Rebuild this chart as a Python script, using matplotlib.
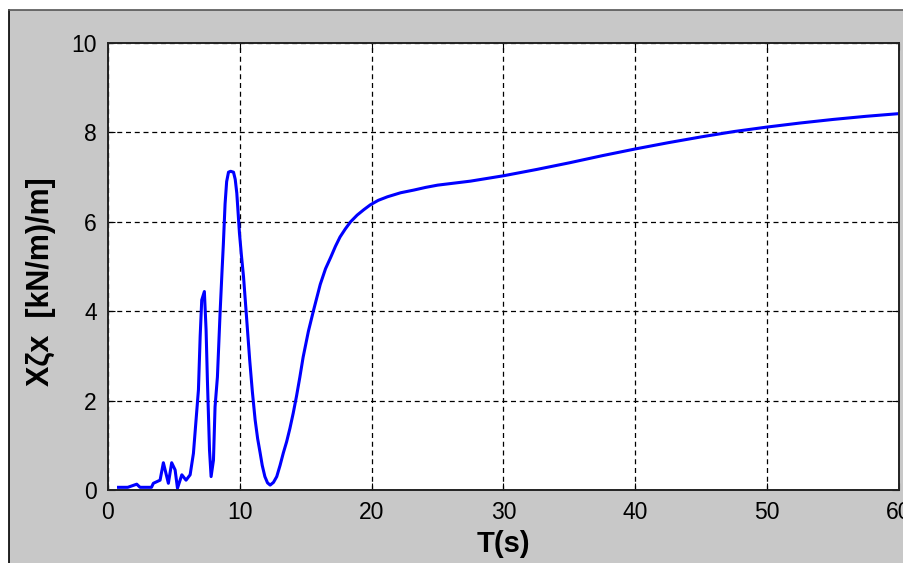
import matplotlib
matplotlib.use("Agg")
import matplotlib.pyplot as plt
from matplotlib.patches import Rectangle

# Data
t = [0.8, 1.5, 2.18, 2.43, 3.3, 3.44, 3.95, 4.2, 4.58, 4.83, 5.09, 5.27, 5.6, 5.92,
     6.23, 6.48, 6.68, 6.86, 6.99, 7.11, 7.31, 7.44, 7.54, 7.7, 7.82, 8.0, 8.12,
     8.3, 8.5, 8.65, 8.75, 8.88, 9.0, 9.14, 9.3, 9.52, 9.65, 9.77, 9.87, 9.97,
     10.12, 10.28, 10.5, 10.75, 10.95, 11.16, 11.35, 11.54, 11.7, 11.9, 12.1,
     12.3, 12.55, 12.8, 13.05, 13.3, 13.55, 13.8, 14.05, 14.3, 14.55, 14.8,
     15.2, 15.6, 16.1, 16.5, 16.9, 17.25, 17.6, 18.0, 18.4, 18.9, 19.4, 19.9,
     20.5, 21.2, 22.2, 23.2, 24.1, 25.0, 27.5, 30.0, 32.5, 35.0, 37.5,
     40.0, 42.5, 45.0, 47.5, 50.0, 52.5, 55.0, 57.5, 60.0]
x_vals = [0.06, 0.06, 0.13, 0.06, 0.06, 0.15, 0.22, 0.61, 0.15, 0.61, 0.45, 0.04, 0.34, 0.22,
          0.34, 0.82, 1.57, 2.24, 3.43, 4.25, 4.44, 3.58, 2.46, 0.89, 0.3, 0.67, 1.86,
          2.53, 3.95, 4.9, 5.5, 6.4, 6.9, 7.11, 7.13, 7.11, 6.95, 6.64, 6.2, 5.75,
          5.25, 4.77, 3.9, 2.9, 2.2, 1.57, 1.15, 0.83, 0.55, 0.3, 0.16,
          0.11, 0.17, 0.3, 0.55, 0.83, 1.08, 1.38, 1.72, 2.1, 2.52, 2.97,
          3.55, 4.03, 4.6, 4.95, 5.21, 5.45, 5.66, 5.84, 6.0, 6.15, 6.27, 6.38,
          6.48, 6.56, 6.65, 6.71, 6.77, 6.82, 6.91, 7.03, 7.17, 7.32, 7.48,
          7.63, 7.77, 7.9, 8.02, 8.12, 8.21, 8.29, 8.36, 8.42]
x_ticks = [0, 10, 20, 30, 40, 50, 60]
y_ticks = [0, 2, 4, 6, 8, 10]
x_label = "T(s)"
y_label = "X\u03b6x  [kN/m)/m]"

W, H = 904, 563
fig = plt.figure(figsize=(W / 100, H / 100), dpi=100, facecolor="white")
fig.patches.append(Rectangle((9 / W, 0), 1, 1 - 10 / H, transform=fig.transFigure,
                             facecolor="#c8c8c8", edgecolor="none", zorder=-2))
fig.add_artist(plt.Line2D([9 / W, 9 / W], [0, 1 - 10 / H], transform=fig.transFigure,
                          color="black", lw=1.2))
fig.add_artist(plt.Line2D([9 / W, 1], [1 - 10 / H, 1 - 10 / H], transform=fig.transFigure,
                          color="#555555", lw=1.2))

ax = fig.add_axes([108 / W, 1 - 490 / H, (899 - 108) / W, (490 - 43) / H])
ax.set_facecolor("white")
ax.plot(t, x_vals, color="#0000ff", lw=2.2, solid_joinstyle="round")
ax.set_xlim(0, 60)
ax.set_ylim(0, 10)
ax.set_xticks(x_ticks)
ax.set_yticks(y_ticks)
ax.grid(True, color="black", linestyle=(0, (4, 3)), lw=0.9)
ax.tick_params(direction="in", length=5, width=0.8, top=True, right=True,
               labelsize=16.5, pad=8)
for lab in ax.get_xticklabels() + ax.get_yticklabels():
    lab.set_family("Liberation Sans")
for sp in ax.spines.values():
    sp.set_linewidth(1.4)
    sp.set_color("#222222")
ax.set_xlabel(x_label, fontsize=21, fontweight="bold", family="Liberation Sans", va="center")
ax.xaxis.set_label_coords(0.5, (490 - 544) / 447)
ax.set_ylabel(y_label, fontsize=22, fontweight="bold", family="Liberation Sans", va="center")
ax.yaxis.set_label_coords((41 - 108) / 791, (490 - 282) / 447)
for lab in ax.get_xticklabels():
    lab.set_clip_on(False)

fig.savefig("out.png", dpi=100, facecolor="white")
